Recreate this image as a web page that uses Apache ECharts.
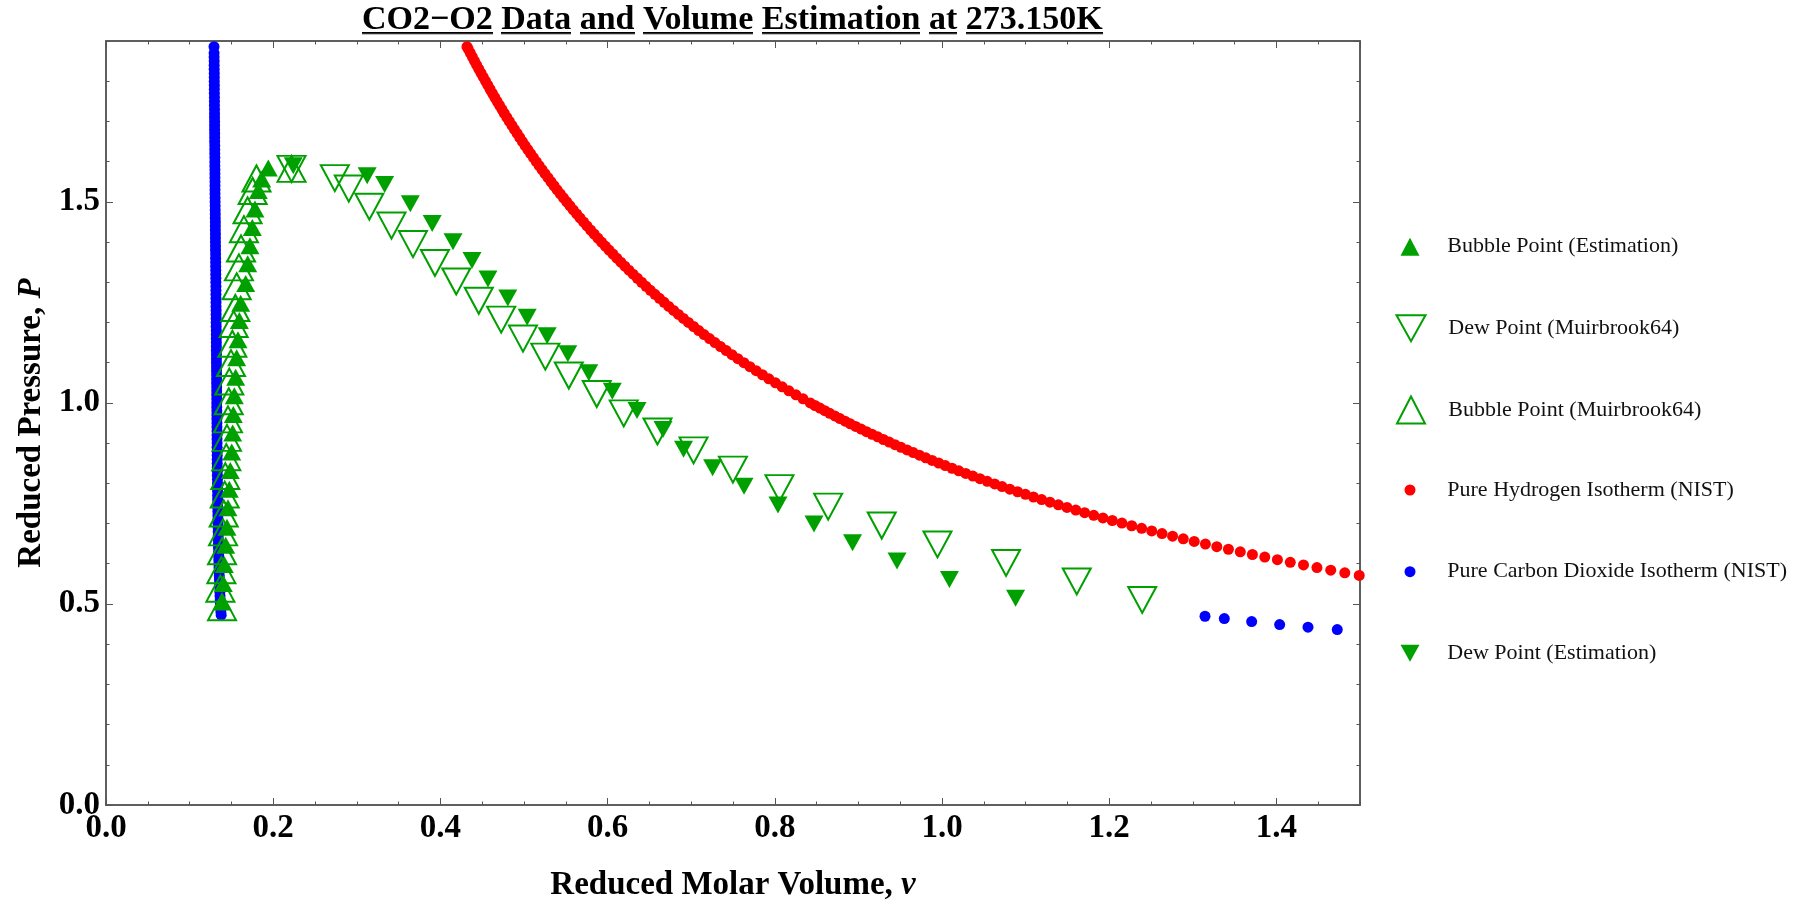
<!DOCTYPE html>
<html>
<head>
<meta charset="utf-8">
<script src="https://cdn.jsdelivr.net/npm/echarts@6/dist/echarts.min.js"></script>
<style>html,body{margin:0;padding:0;background:#fff}#c{width:1800px;height:902px}</style>
</head>
<body>
<div id="c"></div>
<script>
// ---------- data (reduced molar volume v, reduced pressure P) ----------
const titleText = 'CO2\u2212O2 Data and Volume Estimation at 273.150K';
const xTicks = [0.0, 0.2, 0.4, 0.6, 0.8, 1.0, 1.2, 1.4];
const yTicks = [0.0, 0.5, 1.0, 1.5];

const bubbleEstimation = [
  [0.1391,0.505],[0.1403,0.551],[0.1415,0.598],[0.1432,0.646],[0.1447,0.691],[0.1459,0.739],
  [0.1475,0.785],[0.1487,0.832],[0.1504,0.878],[0.1515,0.925],[0.1523,0.971],[0.1535,1.018],
  [0.1551,1.064],[0.1563,1.112],[0.1579,1.157],[0.1595,1.205],[0.1611,1.248],[0.1671,1.297],
  [0.1695,1.346],[0.1722,1.391],[0.1750,1.436],[0.1782,1.482],[0.1822,1.528],[0.1862,1.557],
  [0.1941,1.584]
];
const dewMuirbrook = [
  [0.2219,1.582],[0.2737,1.559],[0.2904,1.533],[0.3150,1.488],[0.3415,1.441],[0.3672,1.395],
  [0.3935,1.348],[0.4190,1.302],[0.4459,1.254],[0.4727,1.207],[0.4988,1.160],[0.5255,1.115],
  [0.5536,1.068],[0.5870,1.022],[0.6193,0.974],[0.6597,0.929],[0.7028,0.882],[0.7499,0.834],
  [0.8056,0.788],[0.8638,0.742],[0.9279,0.695],[0.9946,0.648],[1.0766,0.602],[1.1612,0.556],
  [1.2395,0.510]
];
const bubbleMuirbrook = [
  [0.1388,0.492],[0.1368,0.538],[0.1380,0.584],[0.1388,0.631],[0.1400,0.678],[0.1408,0.725],
  [0.1420,0.772],[0.1427,0.818],[0.1439,0.865],[0.1447,0.913],[0.1459,0.959],[0.1468,1.004],
  [0.1475,1.053],[0.1495,1.099],[0.1511,1.147],[0.1527,1.196],[0.1547,1.236],[0.1563,1.290],
  [0.1590,1.337],[0.1615,1.384],[0.1650,1.432],[0.1693,1.479],[0.1754,1.527],[0.1800,1.558],
  [0.2219,1.582]
];
const dewEstimation = [
  [0.2240,1.590],[0.3124,1.565],[0.3333,1.543],[0.3640,1.495],[0.3902,1.446],[0.4151,1.401],
  [0.4378,1.354],[0.4569,1.308],[0.4806,1.261],[0.5038,1.213],[0.5277,1.167],[0.5524,1.122],
  [0.5775,1.075],[0.6056,1.029],[0.6352,0.981],[0.6663,0.934],[0.6908,0.885],[0.7256,0.839],
  [0.7632,0.793],[0.8038,0.746],[0.8469,0.699],[0.8930,0.652],[0.9462,0.607],[1.0089,0.561],
  [1.0880,0.514]
];
const hydrogenNIST = [
  [0.4318,1.886],[0.4333,1.88],[0.4358,1.87],[0.4383,1.86],[0.4408,1.85],[0.4434,1.84],[0.4460,1.83],
  [0.4486,1.82],[0.4513,1.81],[0.4540,1.80],[0.4567,1.79],[0.4594,1.78],[0.4622,1.77],[0.4650,1.76],
  [0.4678,1.75],[0.4707,1.74],[0.4736,1.73],[0.4765,1.72],[0.4795,1.71],[0.4825,1.70],[0.4856,1.69],
  [0.4886,1.68],[0.4918,1.67],[0.4949,1.66],[0.4981,1.65],[0.5013,1.64],[0.5046,1.63],[0.5079,1.62],
  [0.5113,1.61],[0.5147,1.60],[0.5181,1.59],[0.5216,1.58],[0.5251,1.57],[0.5287,1.56],[0.5323,1.55],
  [0.5359,1.54],[0.5396,1.53],[0.5434,1.52],[0.5472,1.51],[0.5511,1.50],[0.5550,1.49],[0.5589,1.48],
  [0.5630,1.47],[0.5670,1.46],[0.5712,1.45],[0.5753,1.44],[0.5796,1.43],[0.5839,1.42],[0.5883,1.41],
  [0.5927,1.40],[0.5972,1.39],[0.6017,1.38],[0.6064,1.37],[0.6110,1.36],[0.6158,1.35],[0.6206,1.34],
  [0.6255,1.33],[0.6305,1.32],[0.6356,1.31],[0.6407,1.30],[0.6459,1.29],[0.6512,1.28],[0.6566,1.27],
  [0.6620,1.26],[0.6676,1.25],[0.6732,1.24],[0.6790,1.23],[0.6848,1.22],[0.6907,1.21],[0.6967,1.20],
  [0.7029,1.19],[0.7091,1.18],[0.7154,1.17],[0.7219,1.16],[0.7284,1.15],[0.7351,1.14],[0.7419,1.13],
  [0.7488,1.12],[0.7558,1.11],[0.7630,1.10],[0.7702,1.09],[0.7777,1.08],[0.7852,1.07],[0.7929,1.06],
  [0.8008,1.05],[0.8088,1.04],[0.8169,1.03],[0.8253,1.02],[0.8338,1.01],[0.8424,1.00],
  [0.8481,0.9935],[0.8539,0.987],[0.8598,0.9805],[0.8657,0.974],[0.8718,0.9675],[0.8779,0.961],
  [0.8841,0.9545],[0.8903,0.948],[0.8967,0.9415],[0.9032,0.935],[0.9097,0.9285],[0.9163,0.922],
  [0.9231,0.9155],[0.9299,0.909],[0.9368,0.9025],[0.9438,0.896],[0.9510,0.8895],[0.9582,0.883],
  [0.9656,0.8765],[0.9730,0.870],[0.9806,0.8635],[0.9882,0.857],[0.9960,0.8505],[1.0039,0.844],
  [1.0120,0.8375],[1.0201,0.831],[1.0284,0.8245],[1.0369,0.818],[1.0454,0.8115],[1.0541,0.805],
  [1.0630,0.7985],[1.0719,0.792],[1.0811,0.7855],[1.0904,0.779],[1.0998,0.7725],[1.1094,0.766],
  [1.1192,0.7595],[1.1291,0.753],[1.1392,0.7465],[1.1495,0.740],[1.1600,0.7335],[1.1706,0.727],
  [1.1815,0.7205],[1.1925,0.714],[1.2037,0.7075],[1.2152,0.701],[1.2269,0.6945],[1.2388,0.688],
  [1.2509,0.6815],[1.2632,0.675],[1.2758,0.6685],[1.2886,0.662],[1.3017,0.6555],[1.3151,0.649],
  [1.3287,0.6425],[1.3426,0.636],[1.3568,0.6295],[1.3713,0.623],[1.3861,0.6165],[1.4012,0.610],
  [1.4166,0.6035],[1.4324,0.597],[1.4485,0.5905],[1.4650,0.584],[1.4818,0.5775],[1.4991,0.571]
];
const co2NIST = [
  [0.1292,1.886],[0.1293,1.87],[0.1293,1.86],[0.1294,1.85],[0.1294,1.84],[0.1294,1.83],[0.1295,1.82],
  [0.1295,1.81],[0.1295,1.80],[0.1296,1.79],[0.1296,1.78],[0.1296,1.77],[0.1297,1.76],[0.1297,1.75],
  [0.1297,1.74],[0.1298,1.73],[0.1298,1.72],[0.1298,1.71],[0.1299,1.70],[0.1299,1.69],[0.1299,1.68],
  [0.1300,1.67],[0.1300,1.66],[0.1300,1.65],[0.1301,1.64],[0.1301,1.63],[0.1301,1.62],[0.1302,1.61],
  [0.1302,1.60],[0.1302,1.59],[0.1303,1.58],[0.1303,1.57],[0.1303,1.56],[0.1304,1.55],[0.1304,1.54],
  [0.1304,1.53],[0.1304,1.52],[0.1305,1.51],[0.1305,1.50],[0.1306,1.49],[0.1306,1.48],[0.1307,1.47],
  [0.1307,1.46],[0.1308,1.45],[0.1308,1.44],[0.1308,1.43],[0.1309,1.42],[0.1309,1.41],[0.1309,1.40],
  [0.1310,1.39],[0.1310,1.38],[0.1311,1.37],[0.1311,1.36],[0.1312,1.35],[0.1312,1.34],[0.1313,1.33],
  [0.1313,1.32],[0.1314,1.31],[0.1314,1.30],[0.1315,1.29],[0.1315,1.28],[0.1315,1.27],[0.1316,1.26],
  [0.1316,1.25],[0.1316,1.24],[0.1317,1.23],[0.1317,1.22],[0.1318,1.21],[0.1318,1.20],[0.1318,1.19],
  [0.1319,1.18],[0.1319,1.17],[0.1319,1.16],[0.1320,1.15],[0.1320,1.14],[0.1320,1.13],[0.1321,1.12],
  [0.1321,1.11],[0.1321,1.10],[0.1322,1.09],[0.1322,1.08],[0.1323,1.07],[0.1323,1.06],[0.1323,1.05],
  [0.1324,1.04],[0.1324,1.03],[0.1324,1.02],[0.1325,1.01],[0.1325,1.00],[0.1325,0.99],[0.1326,0.98],
  [0.1326,0.97],[0.1326,0.96],[0.1327,0.95],[0.1327,0.94],[0.1328,0.93],[0.1328,0.92],[0.1328,0.91],
  [0.1329,0.90],[0.1329,0.89],[0.1329,0.88],[0.1330,0.87],[0.1330,0.86],[0.1330,0.85],[0.1331,0.84],
  [0.1332,0.83],[0.1332,0.82],[0.1333,0.81],[0.1334,0.80],[0.1334,0.79],[0.1335,0.78],[0.1335,0.77],
  [0.1336,0.76],[0.1337,0.75],[0.1337,0.74],[0.1338,0.73],[0.1339,0.72],[0.1339,0.71],[0.1340,0.70],
  [0.1341,0.69],[0.1342,0.68],[0.1343,0.67],[0.1344,0.66],[0.1345,0.65],[0.1346,0.64],[0.1347,0.63],
  [0.1348,0.62],[0.1349,0.61],[0.1350,0.60],[0.1352,0.59],[0.1354,0.58],[0.1355,0.57],[0.1357,0.56],
  [0.1359,0.55],[0.1361,0.54],[0.1362,0.53],[0.1364,0.52],[0.1366,0.51],[0.1368,0.50],[0.1371,0.49],
  [0.1374,0.48],[0.1378,0.472],
  [1.3146,0.4694],[1.3377,0.4637],[1.3704,0.4563],[1.4039,0.4488],[1.4378,0.4421],[1.4728,0.4364]
];
const seriesNames = {
  bubbleEst: 'Bubble Point (Estimation)',
  dewMuir: 'Dew Point (Muirbrook64)',
  bubbleMuir: 'Bubble Point (Muirbrook64)',
  h2: 'Pure Hydrogen Isotherm (NIST)',
  co2: 'Pure Carbon Dioxide Isotherm (NIST)',
  dewEst: 'Dew Point (Estimation)'
};

// ---------- styling ----------
const SERIF = '"Liberation Serif","Times New Roman",serif';
const GREEN = '#00a000';
const FRAME = '#555';
const DOWN_TRI = 'path://M0,0L20,0L10,18Z';

const ul = document.createElement('canvas');
ul.width = 8; ul.height = 40;
(function(){ const g = ul.getContext('2d'); g.fillStyle = '#000'; g.fillRect(0, 34, 8, 2.5); })();

const titleRich = titleText.split(' ').map(w => '{u|' + w + '}').join(' ');

function frameAxis(kind, pos, interval, tickLen, extra) {
  const isX = kind === 'x';
  return Object.assign({
    type: 'value', gridIndex: 0, position: pos,
    min: 0, max: isX ? 1.5 : 1.9, interval: interval,
    axisLine: { show: true, onZero: false, lineStyle: { color: FRAME, width: 1.5 } },
    axisTick: { show: true, inside: true, length: tickLen, lineStyle: { color: FRAME, width: 1 } },
    axisLabel: { show: false },
    splitLine: { show: false },
    minorTick: { show: false }
  }, extra || {});
}

const labelStyle = { fontFamily: SERIF, fontWeight: 'bold', fontSize: 33, color: '#000' };

const xAxes = [
  frameAxis('x', 'bottom', 0.2, 7, {
    axisLabel: Object.assign({ show: true, margin: 7, showMaxLabel: false,
      formatter: v => Number(v).toFixed(1) }, labelStyle),
    name: 'Reduced Molar Volume, {i|v}', nameLocation: 'middle', nameGap: 64,
    nameTextStyle: Object.assign({ rich: { i: Object.assign({}, labelStyle, { fontStyle: 'italic' }) } }, labelStyle)
  }),
  frameAxis('x', 'bottom', 0.05, 3.5),
  frameAxis('x', 'top', 0.2, 7),
  frameAxis('x', 'top', 0.05, 3.5)
];
const yAxes = [
  frameAxis('y', 'left', 0.5, 7, {
    axisLabel: Object.assign({ show: true, margin: 6, showMaxLabel: false,
      formatter: v => Number(v).toFixed(1) }, labelStyle),
    name: 'Reduced Pressure, {i|P}', nameLocation: 'middle', nameGap: 58, nameRotate: 90,
    nameTextStyle: Object.assign({ rich: { i: Object.assign({}, labelStyle, { fontStyle: 'italic' }) } }, labelStyle)
  }),
  frameAxis('y', 'left', 0.1, 3.5),
  frameAxis('y', 'right', 0.5, 7),
  frameAxis('y', 'right', 0.1, 3.5)
];

const hollow = { color: 'rgba(0,0,0,0)', borderColor: GREEN, borderWidth: 2, opacity: 1 };
const filled = { color: GREEN, opacity: 1 };

function legendFor(name, cy, w, h, itemStyle, icon) {
  const boxH = Math.max(h, 22);
  const item = { name: name };
  if (itemStyle) item.itemStyle = itemStyle;
  if (icon) item.icon = icon;
  return {
    show: true, orient: 'vertical', selectedMode: false, padding: 0,
    left: 1410 - w / 2, top: cy - boxH / 2,
    itemWidth: w, itemHeight: h,
    data: [item],
    textStyle: { fontFamily: SERIF, fontSize: 22, color: '#111', padding: [0, 0, 0, 32.3 - w / 2] }
  };
}

const chart = echarts.init(document.getElementById('c'), null, { renderer: 'canvas' });
chart.setOption({
  backgroundColor: '#fff',
  animation: false,
  title: {
    text: titleRich, left: 362, top: 0, padding: 0,
    textStyle: {
      fontFamily: SERIF, fontWeight: 'bold', fontSize: 34, color: '#000', lineHeight: 40,
      rich: { u: { fontFamily: SERIF, fontWeight: 'bold', fontSize: 34, color: '#000', lineHeight: 40,
                   backgroundColor: { image: ul } } }
    }
  },
  grid: { left: 106, right: 440, top: 41, bottom: 97, containLabel: false, outerBoundsMode: 'none' },
  xAxis: xAxes,
  yAxis: yAxes,
  legend: [
    legendFor(seriesNames.bubbleEst, 246.7, 19, 18, filled),
    legendFor(seriesNames.dewMuir, 327.7, 29, 27, hollow, DOWN_TRI),
    legendFor(seriesNames.bubbleMuir, 409, 28, 27, hollow),
    legendFor(seriesNames.h2, 490, 11, 11, { color: '#ff0000', opacity: 1 }),
    legendFor(seriesNames.co2, 571.7, 11, 11, { color: '#0000ff', opacity: 1 }),
    legendFor(seriesNames.dewEst, 653.3, 19, 18, filled, DOWN_TRI)
  ],
  series: [
    { name: seriesNames.co2, type: 'scatter', data: co2NIST, symbol: 'circle', symbolSize: 11,
      itemStyle: { color: '#0000ff', opacity: 1 } },
    { name: seriesNames.h2, type: 'scatter', data: hydrogenNIST, symbol: 'circle', symbolSize: 11,
      itemStyle: { color: '#ff0000', opacity: 1 } },
    { name: seriesNames.bubbleMuir, type: 'scatter', data: bubbleMuirbrook, symbol: 'triangle',
      symbolSize: [28, 26], itemStyle: hollow },
    { name: seriesNames.dewMuir, type: 'scatter', data: dewMuirbrook, symbol: 'triangle', symbolRotate: 180,
      symbolSize: [28, 26], itemStyle: hollow },
    { name: seriesNames.bubbleEst, type: 'scatter', data: bubbleEstimation, symbol: 'triangle',
      symbolSize: [19, 17], itemStyle: filled },
    { name: seriesNames.dewEst, type: 'scatter', data: dewEstimation, symbol: 'triangle', symbolRotate: 180,
      symbolSize: [19, 17], itemStyle: filled }
  ]
});
</script>
</body>
</html>
